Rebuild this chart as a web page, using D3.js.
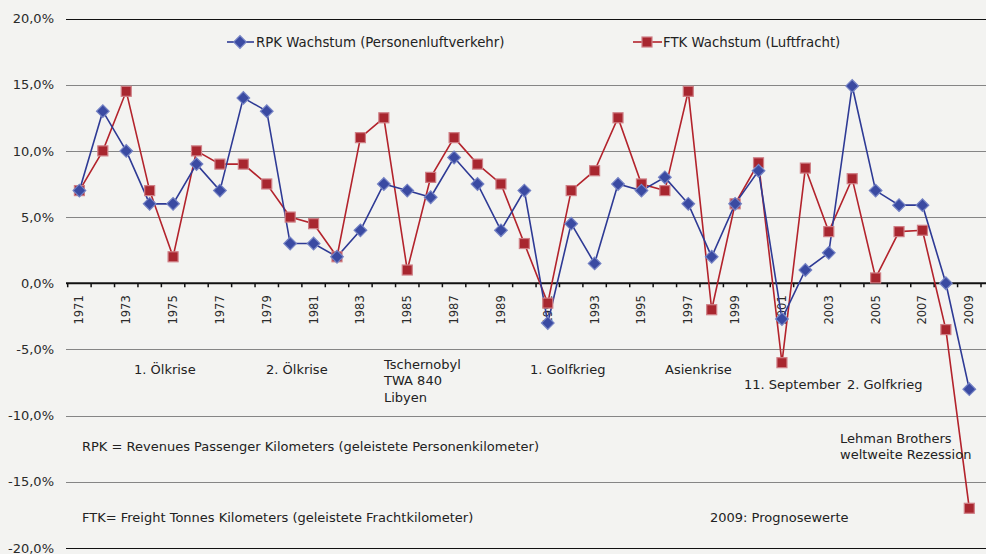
<!DOCTYPE html>
<html>
<head>
<meta charset="utf-8">
<script src="https://cdn.jsdelivr.net/npm/d3@7"></script>
<style>
  body { margin: 0; background: #f3f3f1; }
  svg { display: block; font-family: "DejaVu Sans", "Noto Sans", sans-serif; }
</style>
</head>
<body>
<svg id="chart" width="986" height="554"></svg>
<script>
// years on the category axis
var years = d3.range(1971, 2010);
// RPK growth (passenger traffic), percent
var rpkValues = [7.0, 13.0, 10.0, 6.0, 6.0, 9.0, 7.0, 14.0, 13.0, 3.0,
  3.0, 2.0, 4.0, 7.5, 7.0, 6.5, 9.5, 7.5, 4.0, 7.0,
  -3.0, 4.5, 1.5, 7.5, 7.0, 8.0, 6.0, 2.0, 6.0, 8.5,
  -2.7, 1.0, 2.3, 14.9, 7.0, 5.9, 5.9, 0.0, -8.0];
// FTK growth (air freight), percent
var ftkValues = [7.0, 10.0, 14.5, 7.0, 2.0, 10.0, 9.0, 9.0, 7.5, 5.0,
  4.5, 2.0, 11.0, 12.5, 1.0, 8.0, 11.0, 9.0, 7.5, 3.0,
  -1.5, 7.0, 8.5, 12.5, 7.5, 7.0, 14.5, -2.0, 6.0, 9.1,
  -6.0, 8.7, 3.9, 7.9, 0.4, 3.9, 4.0, -3.5, -17.0];
var yTicks = [-20, -15, -10, -5, 0, 5, 10, 15, 20];
var seriesNames = ["RPK Wachstum (Personenluftverkehr)", "FTK Wachstum (Luftfracht)"];

var svg = d3.select("#chart");
var margin = {left: 67.7, right: 5, top: 18.5, bottom: 6};
var W = 986, H = 554;

var x = d3.scaleBand().domain(years).range([margin.left, W - margin.right]).padding(0);
var y = d3.scaleLinear().domain([-20, 20]).range([H - margin.bottom, margin.top]);
var fmt = function(v){ return d3.format(".1f")(v).replace(".", ",").replace("−", "-") + "%"; };

// grid lines
svg.append("g").selectAll("line").data(yTicks).enter().append("line")
  .attr("x1", 66).attr("x2", W)
  .attr("y1", function(d){ return Math.round(y(d)) + 0.5; })
  .attr("y2", function(d){ return Math.round(y(d)) + 0.5; })
  .attr("stroke", function(d){ return (d == 20 || d == -20) ? "#111" : "#858585"; })
  .attr("stroke-width", function(d){ return d == 0 ? 0 : 1.2; });

// y labels
svg.append("g").selectAll("text").data(yTicks).enter().append("text")
  .attr("x", 54).attr("y", function(d){ return y(d); })
  .attr("dy", "0.36em").attr("text-anchor", "end")
  .attr("font-size", 13).attr("fill", "#2a2a2a")
  .text(fmt);

// zero axis with category ticks
var y0 = y(0);
svg.append("line").attr("x1", 66).attr("x2", W).attr("y1", y0).attr("y2", y0)
  .attr("stroke", "#111").attr("stroke-width", 2);
var tickPos = years.map(function(d){ return x(d); }).concat([x.range()[1]]);
svg.append("g").selectAll("line").data(tickPos).enter().append("line")
  .attr("x1", function(d){ return d; }).attr("x2", function(d){ return d; })
  .attr("y1", y0).attr("y2", y0 + 4).attr("stroke", "#111").attr("stroke-width", 1.5);
svg.append("g").selectAll("text").data(years.filter(function(d){ return d % 2 == 1; }))
  .enter().append("text")
  .attr("transform", function(d){ return "translate(" + (x(d) + x.bandwidth() / 2) + "," + (y0 + 12) + ") rotate(-90)"; })
  .attr("text-anchor", "end").attr("dy", "0.35em")
  .attr("font-size", 11.5).attr("fill", "#2a2a2a")
  .text(function(d){ return d; });

var cx = function(d, i){ return x(years[i]) + x.bandwidth() / 2; };
var line = d3.line().x(cx).y(function(d){ return y(d); });

// FTK series
svg.append("path").datum(ftkValues).attr("d", line)
  .attr("fill", "none").attr("stroke", "#b3232c").attr("stroke-width", 1.6);
// RPK series
svg.append("path").datum(rpkValues).attr("d", line)
  .attr("fill", "none").attr("stroke", "#2e3a95").attr("stroke-width", 1.6);

svg.append("g").selectAll("rect").data(ftkValues).enter().append("rect")
  .attr("x", function(d, i){ return cx(d, i) - 5; })
  .attr("y", function(d){ return y(d) - 5; })
  .attr("width", 10).attr("height", 10)
  .attr("fill", "#a8262f").attr("stroke", "#cf7f86").attr("stroke-width", 1.2);

// diamond = square turned by 45 degrees
var diamond = d3.symbol().type(d3.symbolSquare).size(80);
svg.append("g").selectAll("path").data(rpkValues).enter().append("path")
  .attr("d", diamond)
  .attr("transform", function(d, i){ return "translate(" + cx(d, i) + "," + y(d) + ") rotate(45)"; })
  .attr("fill", "#3a4aa2").attr("stroke", "#7482c4").attr("stroke-width", 1.2);

// legend
var leg = svg.append("g").attr("font-size", 13.3).attr("fill", "#222");
leg.append("line").attr("x1", 227).attr("x2", 254).attr("y1", 42).attr("y2", 42)
  .attr("stroke", "#2e3a95").attr("stroke-width", 1.6);
leg.append("path").attr("d", diamond).attr("transform", "translate(240,42) rotate(45)")
  .attr("fill", "#3a4aa2").attr("stroke", "#7482c4").attr("stroke-width", 1.2);
leg.append("text").attr("x", 256).attr("y", 42).attr("dy", "0.36em").text(seriesNames[0]);
leg.append("line").attr("x1", 633).attr("x2", 662).attr("y1", 42).attr("y2", 42)
  .attr("stroke", "#b3232c").attr("stroke-width", 1.6);
leg.append("rect").attr("x", 642).attr("y", 37).attr("width", 10).attr("height", 10)
  .attr("fill", "#a8262f").attr("stroke", "#cf7f86").attr("stroke-width", 1.2);
leg.append("text").attr("x", 663).attr("y", 42).attr("dy", "0.36em").text(seriesNames[1]);

// annotations
var notes = [
  {x: 134, y: 369, lines: ["1. Ölkrise"]},
  {x: 266, y: 369, lines: ["2. Ölkrise"]},
  {x: 384, y: 364, lines: ["Tschernobyl", "TWA 840", "Libyen"]},
  {x: 530, y: 369, lines: ["1. Golfkrieg"]},
  {x: 665, y: 369, lines: ["Asienkrise"]},
  {x: 744, y: 384, lines: ["11. September"]},
  {x: 847, y: 384, lines: ["2. Golfkrieg"]},
  {x: 840, y: 438, lines: ["Lehman Brothers", "weltweite Rezession"]},
  {x: 82, y: 446, lines: ["RPK = Revenues Passenger Kilometers (geleistete Personenkilometer)"]},
  {x: 82, y: 517, lines: ["FTK= Freight Tonnes Kilometers (geleistete Frachtkilometer)"]},
  {x: 710, y: 517, lines: ["2009: Prognosewerte"]}
];
notes.forEach(function(n){
  var t = svg.append("text").attr("x", n.x).attr("y", n.y)
    .attr("font-size", 13).attr("fill", "#222");
  n.lines.forEach(function(s, i){
    t.append("tspan").attr("x", n.x).attr("y", n.y + i * 16.5).attr("dy", "0.36em").text(s);
  });
});
</script>
</body>
</html>
